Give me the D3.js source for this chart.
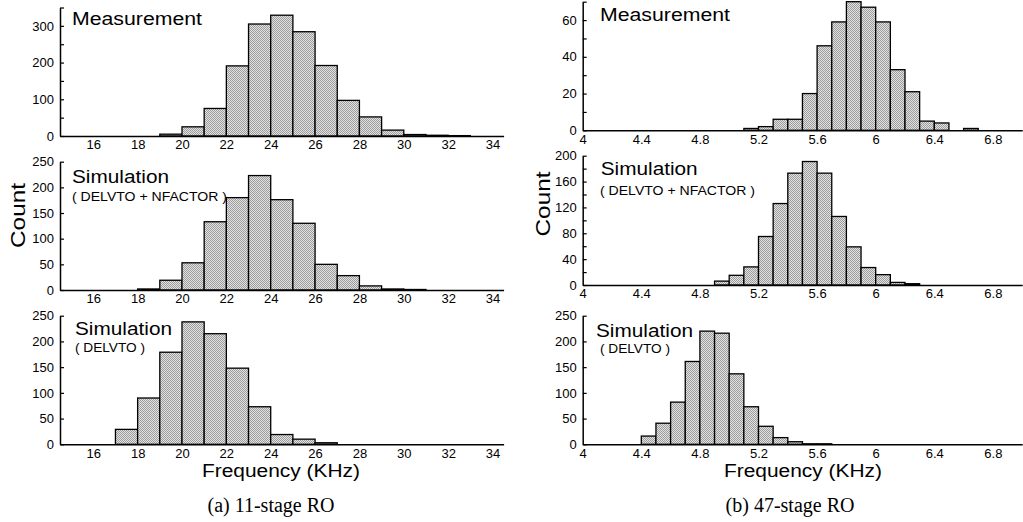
<!DOCTYPE html>
<meta charset="utf-8">
<script src="https://d3js.org/d3.v7.min.js"></script>
<style>
  body { margin: 0; background: #fff; }
  text { font-family: "Liberation Sans", Arial, sans-serif; fill: #000; }
</style>
<body>
<div id="fig"></div>
<script>
// (a) 11-stage RO, bins 1 kHz wide
var xTicksA = [16, 18, 20, 22, 24, 26, 28, 30, 32, 34];
var measBinsA   = [19, 20, 21, 22, 23, 24, 25, 26, 27, 28, 29, 30, 31, 32];
var measCountsA = [5, 25, 75, 191, 305, 329, 284, 192, 97, 52, 16, 4, 2, 1];
var simNBinsA   = [18, 19, 20, 21, 22, 23, 24, 25, 26, 27, 28, 29, 30];
var simNCountsA = [2, 19, 53, 133, 180, 223, 176, 130, 50, 28, 8, 2, 1];
var simDBinsA   = [17, 18, 19, 20, 21, 22, 23, 24, 25, 26];
var simDCountsA = [29, 90, 179, 238, 215, 148, 73, 19, 10, 3];

// (b) 47-stage RO, bins 0.1 kHz wide
var xTicksB = [4, 4.4, 4.8, 5.2, 5.6, 6, 6.4, 6.8];
var measBinsB   = [5.1, 5.2, 5.3, 5.4, 5.5, 5.6, 5.7, 5.8, 5.9, 6.0, 6.1, 6.2, 6.3, 6.4, 6.5, 6.6];
var measCountsB = [1, 2, 6, 6, 20, 46, 59, 70, 67, 59, 33, 21, 5, 4, 0, 1];
var simNBinsB   = [4.9, 5.0, 5.1, 5.2, 5.3, 5.4, 5.5, 5.6, 5.7, 5.8, 5.9, 6.0, 6.1, 6.2];
var simNCountsB = [6, 15, 28, 75, 126, 173, 191, 173, 106, 59, 27, 16, 4, 2];
var simDBinsB   = [4.4, 4.5, 4.6, 4.7, 4.8, 4.9, 5.0, 5.1, 5.2, 5.3, 5.4, 5.5, 5.6];
var simDCountsB = [16, 41, 82, 161, 220, 216, 137, 73, 35, 13, 5, 1, 1];

var svg = d3.select("#fig").append("svg")
  .attr("width", 1023)
  .attr("height", 522);

// halftone grey used for the bars
var pat = svg.append("defs").append("pattern")
  .attr("id", "dots")
  .attr("width", 2).attr("height", 2)
  .attr("patternUnits", "userSpaceOnUse");
pat.append("rect").attr("width", 2).attr("height", 2).attr("fill", "#e2e2e2");
pat.append("rect").attr("width", 1).attr("height", 1).attr("fill", "#9c9c9c");
pat.append("rect").attr("x", 1).attr("y", 1).attr("width", 1).attr("height", 1).attr("fill", "#9c9c9c");

function label(x, y, txt, size, len, anchor) {
  var t = svg.append("text")
    .attr("x", x).attr("y", y)
    .style("font-size", size + "px")
    .attr("text-anchor", anchor || "start")
    .text(txt);
  if (len) t.attr("textLength", len).attr("lengthAdjust", "spacingAndGlyphs");
  return t;
}

function panel(o) {
  var x = d3.scaleLinear().domain(o.xDomain).range(o.xRange);
  var y = d3.scaleLinear().domain(o.yDomain).range(o.yRange);
  var g = svg.append("g");

  g.selectAll("rect")
    .data(o.bins)
    .enter().append("rect")
      .attr("x", function(d) { return x(d); })
      .attr("width", function(d) { return x(d + o.step) - x(d); })
      .attr("y", function(d, i) { return y(o.counts[i]); })
      .attr("height", function(d, i) { return y(0) - y(o.counts[i]); })
      .attr("fill", "url(#dots)")
      .attr("stroke", "#000")
      .attr("stroke-width", 1.3);

  var xa = g.append("g")
    .attr("transform", "translate(0," + y(0) + ")")
    .call(d3.axisBottom(x).tickValues(o.xTicks).tickSize(0).tickPadding(4).tickFormat(String));

  var ya = g.append("g")
    .attr("transform", "translate(" + o.xRange[0] + ",0)")
    .call(d3.axisLeft(y).tickValues(o.yTicks).tickSizeInner(-4).tickSizeOuter(0).tickPadding(6)
      .tickFormat(function(d) { return o.yLabels.indexOf(d) >= 0 ? d : ""; }));

  [xa, ya].forEach(function(a) {
    a.attr("font-family", null).attr("font-size", null);
    a.selectAll("text").style("font-size", "13px");
    a.select(".domain").attr("stroke-width", 1.5);
    a.selectAll(".tick line").attr("stroke-width", 1.2);
  });

  label(o.title[0], o.title[1], o.title[2], 17.5, o.title[3]);
  if (o.sub) label(o.sub[0], o.sub[1], o.sub[2], 13.5, o.sub[3]);
}

var rangeA = [60, 503.6], domA = [14.5, 34.5];
var rangeB = [582.7, 1022.2], domB = [4, 7];

panel({ xDomain: domA, xRange: rangeA, yDomain: [0, 350], yRange: [136, 7.5],
  bins: measBinsA, counts: measCountsA, step: 1, xTicks: xTicksA,
  yTicks: [0, 50, 100, 150, 200, 250, 300, 350], yLabels: [0, 100, 200, 300],
  title: [72, 25, "Measurement", 130] });

panel({ xDomain: domA, xRange: rangeA, yDomain: [0, 250], yRange: [290, 161.7],
  bins: simNBinsA, counts: simNCountsA, step: 1, xTicks: xTicksA,
  yTicks: [0, 50, 100, 150, 200, 250], yLabels: [0, 50, 100, 150, 200, 250],
  title: [72, 183, "Simulation", 97], sub: [72, 200.5, "( DELVTO + NFACTOR )", 155] });

panel({ xDomain: domA, xRange: rangeA, yDomain: [0, 250], yRange: [444.3, 315.7],
  bins: simDBinsA, counts: simDCountsA, step: 1, xTicks: xTicksA,
  yTicks: [0, 50, 100, 150, 200, 250], yLabels: [0, 50, 100, 150, 200, 250],
  title: [75, 335, "Simulation", 97], sub: [75, 351.7, "( DELVTO )", 70] });

panel({ xDomain: domB, xRange: rangeB, yDomain: [0, 70], yRange: [130.3, 1.7],
  bins: measBinsB, counts: measCountsB, step: 0.1, xTicks: xTicksB,
  yTicks: [0, 10, 20, 30, 40, 50, 60, 70], yLabels: [0, 20, 40, 60],
  title: [600, 20.7, "Measurement", 130] });

panel({ xDomain: domB, xRange: rangeB, yDomain: [0, 200], yRange: [285, 155.7],
  bins: simNBinsB, counts: simNCountsB, step: 0.1, xTicks: xTicksB,
  yTicks: [0, 20, 40, 60, 80, 100, 120, 140, 160, 180, 200], yLabels: [0, 40, 80, 120, 160, 200],
  title: [600.7, 175, "Simulation", 97], sub: [600, 195, "( DELVTO + NFACTOR )", 155] });

panel({ xDomain: domB, xRange: rangeB, yDomain: [0, 250], yRange: [444.3, 315.7],
  bins: simDBinsB, counts: simDCountsB, step: 0.1, xTicks: xTicksB,
  yTicks: [0, 50, 100, 150, 200, 250], yLabels: [0, 50, 100, 150, 200, 250],
  title: [596, 336.7, "Simulation", 97], sub: [600, 353, "( DELVTO )", 70] });

// axis titles
label(0, 0, "Count", 19.5, 65, "middle").attr("transform", "translate(25,215.5) rotate(-90)");
label(0, 0, "Count", 19.5, 65, "middle").attr("transform", "translate(549.5,204) rotate(-90)");
label(281, 476.7, "Frequency (KHz)", 18, 158, "middle");
label(803, 476.7, "Frequency (KHz)", 18, 158, "middle");

// captions
label(271, 512, "(a) 11-stage RO", 20, null, "middle").style("font-family", "'Liberation Serif', 'Times New Roman', serif");
label(790, 512, "(b) 47-stage RO", 20, null, "middle").style("font-family", "'Liberation Serif', 'Times New Roman', serif");
</script>
</body>
